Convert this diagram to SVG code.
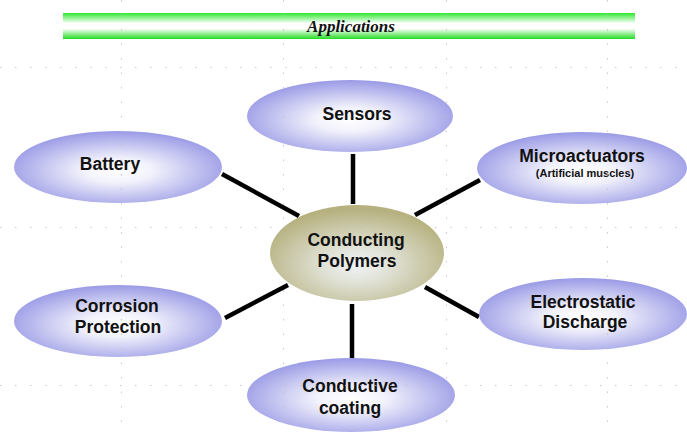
<svg xmlns="http://www.w3.org/2000/svg" width="687" height="432" viewBox="0 0 687 432">
  <defs>
    <linearGradient id="barFill" x1="0" y1="0" x2="0" y2="1">
      <stop offset="0" stop-color="#2ee82e"/>
      <stop offset="0.4" stop-color="#ffffff"/>
      <stop offset="0.6" stop-color="#ffffff"/>
      <stop offset="1" stop-color="#22dd22"/>
    </linearGradient>
    <radialGradient id="blueFill" cx="0.5" cy="0.55" r="0.55">
      <stop offset="0" stop-color="#ffffff"/>
      <stop offset="0.3" stop-color="#f2f2fc"/>
      <stop offset="1" stop-color="#9a9ae6"/>
    </radialGradient>
    <radialGradient id="oliveFill" cx="0.5" cy="0.62" r="0.58">
      <stop offset="0" stop-color="#eef2f4"/>
      <stop offset="0.3" stop-color="#e2e4da"/>
      <stop offset="1" stop-color="#b6b17f"/>
    </radialGradient>
  </defs>
  <style>
    .node { fill: url(#blueFill); }
    .hub { fill: url(#oliveFill); }
    .lbl { font-family: "Liberation Sans", Arial, sans-serif; font-weight: bold; font-size: 17.5px; fill: #111; text-anchor: middle; }
    .sub { font-family: "Liberation Sans", Arial, sans-serif; font-weight: bold; font-size: 11px; fill: #111; text-anchor: middle; }
    .title { font-family: "Liberation Serif", "Times New Roman", serif; font-weight: bold; font-style: italic; font-size: 17px; fill: #111; text-anchor: middle; }
    .link { stroke: #000; stroke-width: 4.5; fill: none; }
    .grid { stroke: #bdbdbd; stroke-width: 1; fill: none; }
  </style>

  <rect width="687" height="432" fill="#ffffff"/>

  <!-- heading band -->
  <g id="title">
    <rect x="63" y="13" width="572" height="26" fill="url(#barFill)"/>
    <text class="title" x="351" y="32">Applications</text>
  </g>

  <!-- spokes from the hub to each application -->
  <g id="connectors">
    <line class="link" x1="353" y1="154" x2="353" y2="204"/>
    <line class="link" x1="222" y1="174" x2="299" y2="216"/>
    <line class="link" x1="415" y1="215" x2="480" y2="180"/>
    <line class="link" x1="225" y1="318" x2="288" y2="285"/>
    <line class="link" x1="425" y1="287" x2="479" y2="317"/>
    <line class="link" x1="352" y1="304" x2="352" y2="363"/>
  </g>

  <g id="sensors">
    <ellipse class="node" cx="350" cy="116" rx="103" ry="36"/>
    <text class="lbl" x="357" y="120">Sensors</text>
  </g>

  <g id="battery">
    <ellipse class="node" cx="118" cy="167" rx="104" ry="36"/>
    <text class="lbl" x="110" y="170">Battery</text>
  </g>

  <g id="microactuators">
    <ellipse class="node" cx="582" cy="168" rx="105" ry="36"/>
    <text class="lbl" x="582" y="162">Microactuators</text>
    <text class="sub" x="585" y="177">(Artificial muscles)</text>
  </g>

  <g id="conducting-polymers">
    <ellipse class="hub" cx="357" cy="253" rx="87" ry="48"/>
    <text class="lbl" x="356" y="246">Conducting</text>
    <text class="lbl" x="357" y="267">Polymers</text>
  </g>

  <g id="corrosion-protection">
    <ellipse class="node" cx="118" cy="321" rx="104" ry="36"/>
    <text class="lbl" x="117" y="312">Corrosion</text>
    <text class="lbl" x="118" y="333">Protection</text>
  </g>

  <g id="electrostatic-discharge">
    <ellipse class="node" cx="583" cy="314" rx="104" ry="36"/>
    <text class="lbl" x="583" y="308">Electrostatic</text>
    <text class="lbl" x="585" y="328">Discharge</text>
  </g>

  <g id="conductive-coating">
    <ellipse class="node" cx="351" cy="395" rx="104" ry="37"/>
    <text class="lbl" x="350" y="392">Conductive</text>
    <text class="lbl" x="350" y="414">coating</text>
  </g>

  <!-- dotted layout guides -->
  <g id="guides" class="grid" opacity="0.8">
    <line x1="0" y1="67.5" x2="687" y2="67.5" stroke-dasharray="1.5 13.5"/>
    <line x1="0" y1="227.5" x2="687" y2="227.5" stroke-dasharray="1.5 13.5"/>
    <line x1="0" y1="385.5" x2="687" y2="385.5" stroke-dasharray="1.5 13.5"/>
    <line x1="121.5" y1="0" x2="121.5" y2="432" stroke-dasharray="1.5 13"/>
    <line x1="283.5" y1="0" x2="283.5" y2="432" stroke-dasharray="1.5 13"/>
    <line x1="446.5" y1="0" x2="446.5" y2="432" stroke-dasharray="1.5 13"/>
    <line x1="607.5" y1="0" x2="607.5" y2="432" stroke-dasharray="1.5 13"/>
  </g>
</svg>
